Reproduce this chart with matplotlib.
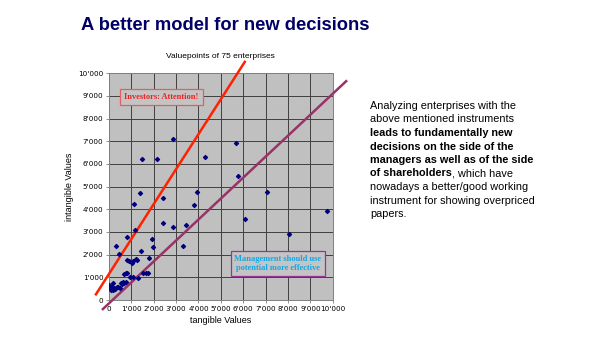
import matplotlib.pyplot as plt
from matplotlib.ticker import FuncFormatter

# tangible / intangible values of the enterprises
tangible = [1140, 1380, 2430, 3940, 3780, 2860, 1480, 2150, 4310, 5670, 5760, 7080,
            2400, 2860, 3450, 3330, 6090, 8040, 9730,
            330, 430, 790, 1180, 800, 900, 1040, 1090, 1240, 1450, 1210, 1910, 1990, 1790,
            750, 820, 660, 940, 1090, 1310, 1540, 1640, 1730,
            540, 610, 670, 570, 760, 190, 0, 40, 120, 190, 270, 340, 420, 160, 10, 90, 250, 490]
intangible = [4240, 4710, 4500, 4750, 4180, 7120, 6240, 6240, 6310, 6930, 5470, 4760,
              3410, 3200, 3300, 2380, 3590, 2900, 3910,
              2400, 2010, 2790, 3090, 1760, 1740, 1620, 1720, 1760, 2180, 1820, 2680, 2320, 1840,
              1180, 1210, 1130, 1030, 1030, 990, 1210, 1180, 1180,
              760, 810, 740, 690, 780, 760, 660, 630, 510, 440, 470, 560, 590, 590, 560, 440, 540, 510]

# the two separating lines
red_x = [-580, 6070]
red_y = [250, 10500]
purple_x = [-270, 10600]
purple_y = [-400, 9650]

ticks = [0, 1000, 2000, 3000, 4000, 5000, 6000, 7000, 8000, 9000, 10000]

fig = plt.figure(figsize=(6.05, 3.4), dpi=100)
fig.patch.set_facecolor('white')

fig.text(0.373, 0.926, 'A better model for new decisions', ha='center', va='center',
         fontsize=13.2, fontweight='bold', color='#000066', family='Liberation Sans')

ax = fig.add_axes([0.180, 0.1176, 0.370, 0.667])
ax.set_facecolor('#c0c0c0')
ax.set_xlim(0, 10000)
ax.set_ylim(0, 10000)
ax.set_xticks(ticks)
ax.set_yticks(ticks)
fmt = FuncFormatter(lambda v, p: f"{int(v):,}".replace(',', "'"))
ax.xaxis.set_major_formatter(fmt)
ax.yaxis.set_major_formatter(fmt)
ax.tick_params(labelsize=5.2, length=2, width=0.6, color='#808080', pad=2)
ax.grid(True, color='#404040', linewidth=0.7)
ax.set_axisbelow(True)
for s in ax.spines.values():
    s.set_color('#808080')
    s.set_linewidth(0.7)

ax.set_title('Valuepoints of 75 enterprises', fontsize=6, family='Liberation Sans', pad=11)
ax.set_xlabel('tangible Values', fontsize=6.5, family='Liberation Sans', labelpad=3)
ax.set_ylabel('intangible Values', fontsize=6.5, family='Liberation Sans', labelpad=3)

ax.plot(red_x, red_y, color='#ff2200', linewidth=1.8, clip_on=False, zorder=3)
ax.plot(purple_x, purple_y, color='#993366', linewidth=1.8, clip_on=False, zorder=3)

ax.scatter(tangible, intangible, marker='D', s=4, color='#000080', zorder=4)

ax.text(2350, 8950, 'Investors: Attention!', ha='center', va='center', fontsize=6,
        fontweight='bold', color='#ee2222', family='Liberation Serif', zorder=5,
        bbox=dict(boxstyle='square,pad=0.5', facecolor='#c4c4c4', edgecolor='#e06060', linewidth=0.9))
ax.text(7550, 1620, 'Management should use\npotential more effective', ha='center', va='center',
        fontsize=6, fontweight='bold', color='#10a8e8', family='Liberation Serif', zorder=5,
        linespacing=1.2,
        bbox=dict(boxstyle='square,pad=0.45', facecolor='#c4c4c4', edgecolor='#993399', linewidth=0.9))

# side note, bold passage in the middle
lines = [
    ('Analyzing enterprises with the', 'normal', ''),
    ('above mentioned instruments', 'normal', ''),
    ('leads to fundamentally new', 'bold', ''),
    ('decisions on the side of the', 'bold', ''),
    ('managers as well as of the side', 'bold', ''),
    ('of shareholders', 'bold', ', which have'),
    ('nowadays a better/good working', 'normal', ''),
    ('instrument for showing overpriced', 'normal', ''),
    ('papers.', 'normal', ''),
]
x0 = 0.612
y0 = 1 - 109 / 340
dy = 13.5 / 340
for i, (txt, w, tail) in enumerate(lines):
    y = y0 - i * dy
    t = fig.text(x0, y, txt, ha='left', va='baseline', fontsize=7.8,
                 fontweight=w, family='Liberation Sans')
    if tail:
        fig.add_artist(plt.Annotation(tail, xy=(1, 0), xycoords=t, fontsize=7.8,
                                      family='Liberation Sans', ha='left', va='bottom'))

fig.savefig('out.png', dpi=100)
